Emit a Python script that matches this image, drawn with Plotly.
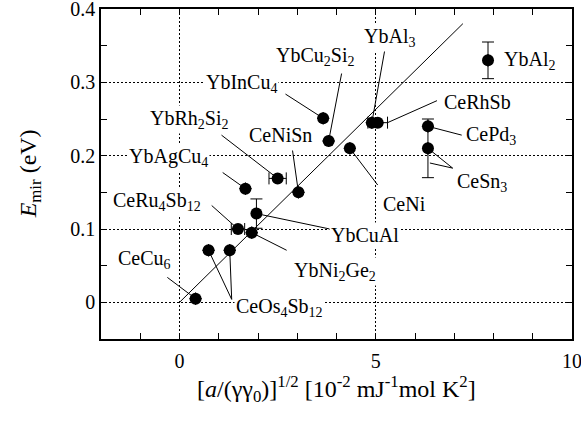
import plotly.graph_objects as go

# ---- data -------------------------------------------------------------
compounds = ["CeCu6", "CeOs4Sb12", "CeOs4Sb12", "CeRu4Sb12", "YbNi2Ge2",
             "YbCuAl", "YbAgCu4", "YbRh2Si2", "CeNiSn", "YbCu2Si2",
             "YbInCu4", "CeNi", "YbAl3", "CeRhSb", "CePd3", "CeSn3", "YbAl2"]
x_sqrt = [0.41, 0.74, 1.28, 1.49, 1.84, 1.96, 1.68, 2.50, 3.03, 3.80,
          3.66, 4.34, 4.90, 5.05, 6.33, 6.33, 7.86]
e_mir = [0.005, 0.071, 0.071, 0.100, 0.095, 0.121, 0.155, 0.169, 0.150,
         0.220, 0.251, 0.210, 0.245, 0.245, 0.240, 0.210, 0.330]
x_err = [None, None, None, 0.17, None, None, None, 0.22, None, None,
         None, None, None, 0.25, None, None, None]
y_err = [None, None, None, None, None, 0.02, None, None, None, None,
         None, None, None, None, None, 0.04, 0.025]

# linear relation through the origin
fit_x = [0.0, 7.22]
fit_y = [0.0, 0.38]

x_tick_vals = [0, 5, 10]
x_tick_labels = ["0", "5", "10"]
y_tick_vals = [0.0, 0.1, 0.2, 0.3, 0.4]
y_tick_labels = ["0", "0.1", "0.2", "0.3", "0.4"]

x_title = ("[<i>a</i>/(γγ<sub>0</sub>)]<sup>1/2</sup> "
           "[10<sup>-2</sup> mJ<sup>-1</sup>mol K<sup>2</sup>]")
y_title = "<i>E</i><sub>mir</sub> (eV)"

# ---- label placement (text, left x, middle y, leader start) ----------
labels = {
    "YbAl2":     ("YbAl<sub>2</sub>", 8.22, 0.330, None),
    "YbAl3":     ("YbAl<sub>3</sub>", 4.65, 0.361, (5.23, 0.344)),
    "YbCu2Si2":  ("YbCu<sub>2</sub>Si<sub>2</sub>", 2.40, 0.335, (4.13, 0.312)),
    "YbInCu4":   ("YbInCu<sub>4</sub>", 0.62, 0.298, (2.70, 0.284)),
    "YbRh2Si2":  ("YbRh<sub>2</sub>Si<sub>2</sub>", -0.79, 0.250, (1.07, 0.228)),
    "CeNiSn":    ("CeNiSn", 1.71, 0.228, (2.88, 0.207)),
    "YbAgCu4":   ("YbAgCu<sub>4</sub>", -1.35, 0.197, (1.10, 0.177)),
    "CeRu4Sb12": ("CeRu<sub>4</sub>Sb<sub>12</sub>", -1.75, 0.137, (0.82, 0.132)),
    "CeCu6":     ("CeCu<sub>6</sub>", -1.63, 0.058, (-0.31, 0.034)),
    "CeOs4Sb12": ("CeOs<sub>4</sub>Sb<sub>12</sub>", 1.38, -0.007, (1.33, 0.004)),
    "YbCuAl":    ("YbCuAl", 3.81, 0.092, (3.83, 0.100)),
    "YbNi2Ge2":  ("YbNi<sub>2</sub>Ge<sub>2</sub>", 2.86, 0.042, (2.73, 0.071)),
    "CeNi":      ("CeNi", 5.13, 0.134, (5.05, 0.160)),
    "CeRhSb":    ("CeRhSb", 6.69, 0.273, (6.56, 0.275)),
    "CePd3":     ("CePd<sub>3</sub>", 7.25, 0.228, (7.19, 0.228)),
    "CeSn3":     ("CeSn<sub>3</sub>", 7.02, 0.164, (6.96, 0.183)),
}

FONT = "Times New Roman, Liberation Serif, Times, serif"

# leader lines: from label to every point of that compound
lead_x, lead_y = [], []
for name, (_, _, _, start) in labels.items():
    if start is None:
        continue
    for i, c in enumerate(compounds):
        if c != name:
            continue
        ends = [(x_sqrt[i], e_mir[i])]
        if name == "CeRhSb":
            ends = [(x_sqrt[i] + x_err[i], e_mir[i])]
        if name == "CeSn3":
            ends.append((x_sqrt[i] + 0.05, e_mir[i] - y_err[i] / 2))
        for ex, ey in ends:
            lead_x += [start[0], ex, None]
            lead_y += [start[1], ey, None]

fig = go.Figure()

fig.add_trace(go.Scatter(x=fit_x, y=fit_y, mode="lines",
                         line=dict(color="black", width=1),
                         hoverinfo="skip", showlegend=False))

fig.add_trace(go.Scatter(x=lead_x, y=lead_y, mode="lines",
                         line=dict(color="black", width=1),
                         hoverinfo="skip", showlegend=False))

fig.add_trace(go.Scatter(
    x=x_sqrt, y=e_mir, mode="markers", text=compounds,
    marker=dict(size=12, color="black"),
    error_x=dict(type="data", array=x_err, color="black", thickness=1, width=6),
    error_y=dict(type="data", array=y_err, color="black", thickness=1, width=6),
    showlegend=False))

for name, (txt, lx, ly, _) in labels.items():
    fig.add_annotation(x=lx, y=ly, xref="x", yref="y", text=txt,
                       showarrow=False, xanchor="left", yanchor="middle",
                       bgcolor="white", borderpad=1,
                       font=dict(family=FONT, size=20, color="black"))

# axis titles
fig.add_annotation(x=0.499, y=-0.152, xref="paper", yref="paper",
                   text=x_title, showarrow=False,
                   xanchor="center", yanchor="middle",
                   font=dict(family=FONT, size=24, color="black"))
fig.add_annotation(x=-0.150, y=0.5, xref="paper", yref="paper",
                   text=y_title, showarrow=False, textangle=-90,
                   xanchor="center", yanchor="middle",
                   font=dict(family=FONT, size=24, color="black"))

axis_common = dict(
    showline=True, linecolor="black", linewidth=1.5, mirror="allticks",
    ticks="inside", ticklen=6, tickcolor="black", tickwidth=1,
    showgrid=True, gridcolor="black", gridwidth=1, griddash="2px,2px",
    zeroline=False, automargin=False, tickmode="array",
    ticklabeloverflow="allow",
    tickfont=dict(family=FONT, size=20, color="black"),
)

fig.update_xaxes(
    range=[-2, 10], tickvals=x_tick_vals, ticktext=x_tick_labels,
    ticklabelstandoff=3,
    minor=dict(dtick=1, tick0=0, ticks="inside", ticklen=6,
               tickcolor="black", showgrid=False),
    **axis_common)

fig.update_yaxes(
    range=[-0.05, 0.4], tickvals=y_tick_vals, ticktext=y_tick_labels,
    minor=dict(dtick=0.05, tick0=0, ticks="inside", ticklen=6,
               tickcolor="black", showgrid=False),
    **axis_common)

fig.update_layout(
    width=581, height=423,
    margin=dict(l=101, r=9, t=9, b=84),
    paper_bgcolor="white", plot_bgcolor="white",
    font=dict(family=FONT, color="black"),
)

fig.write_html("out.html")
